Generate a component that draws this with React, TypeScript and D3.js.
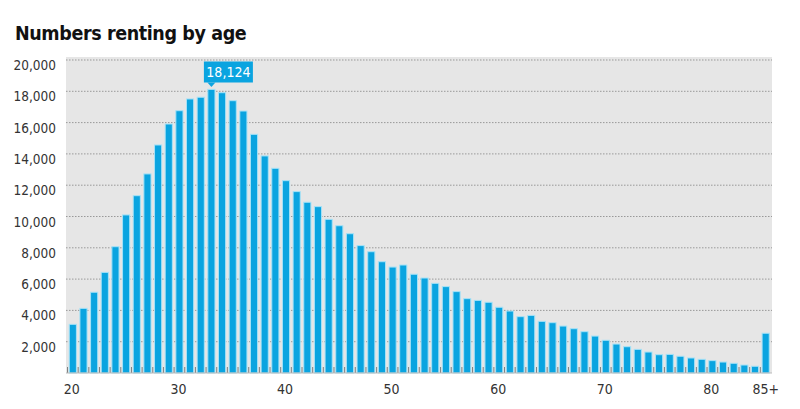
import React from 'react';
import * as d3 from 'd3';

const ageLabels = [
  '20','21','22','23','24','25','26','27','28','29',
  '30','31','32','33','34','35','36','37','38','39',
  '40','41','42','43','44','45','46','47','48','49',
  '50','51','52','53','54','55','56','57','58','59',
  '60','61','62','63','64','65','66','67','68','69',
  '70','71','72','73','74','75','76','77','78','79',
  '80','81','82','83','84','85+'
];
const renters = [
  3110, 4130, 5160, 6430, 8070, 10100, 11330, 12720, 14570, 15910,
  16760, 17510, 17620, 18124, 17910, 17400, 16740, 15250, 13870, 13080,
  12290, 11590, 10910, 10630, 9820, 9410, 8900, 8140, 7750, 7110,
  6770, 6900, 6310, 6070, 5730, 5520, 5200, 4750, 4640, 4520,
  4200, 3960, 3600, 3680, 3300, 3215, 3000, 2830, 2640, 2360,
  2090, 1850, 1680, 1510, 1340, 1170, 1190, 1070, 960, 875,
  790, 700, 620, 510, 430, 2540
];
const yTicks = [2000, 4000, 6000, 8000, 10000, 12000, 14000, 16000, 18000, 20000];
const xLabelAges = ['20', '30', '40', '50', '60', '70', '80', '85+'];
const peakLabel = '18,124';
const peakAge = '33';
const title = 'Numbers renting by age';

const FONT = "'DejaVu Sans Condensed', 'DejaVu Sans', sans-serif";

export default function App() {
  const W = 800, H = 409;
  const left = 66, right = 772, top = 57, bottom = 373;
  const x = d3.scaleBand<string>().domain(ageLabels).range([67.5, 771]).paddingInner(0.33).paddingOuter(0.165);
  const y = d3.scaleLinear().domain([0, 20000]).range([bottom, 60]);
  const fmt = d3.format(',');
  const step = x.step();
  const peakX = (x(peakAge) as number) + x.bandwidth() / 2;

  return (
    <svg width={W} height={H} style={{ position: 'absolute', left: 0, top: 0, display: 'block', background: '#fff' }}>
      <text x={15} y={40} fontFamily={FONT} fontWeight="bold" fontSize={19.5} letterSpacing={-0.4} fill="#111">{title}</text>
      <rect x={left} y={top} width={right - left} height={bottom - top} fill="#e6e6e6" />
      {yTicks.map(t => (
        <g key={t}>
          <line x1={left} x2={right} y1={y(t)} y2={y(t)} stroke="#999" strokeWidth={1} strokeDasharray="1.5,1.5" />
          <text x={56} y={y(t) + 10} textAnchor="end" fontFamily={FONT} fontSize={13.5} fill="#333">{fmt(t)}</text>
        </g>
      ))}
      {ageLabels.map((a, i) => (
        <rect key={a} x={x(a)} y={y(renters[i])} width={x.bandwidth()} height={bottom - y(renters[i])}
          fill="#0aa4e0" stroke="#a6e2f7" strokeWidth={1} />
      ))}
      {ageLabels.map((a) => (
        <line key={'t' + a} x1={(x(a) as number) - (step - x.bandwidth()) / 2} x2={(x(a) as number) - (step - x.bandwidth()) / 2}
          y1={bottom - 6} y2={bottom} stroke="#666" strokeWidth={0.8} />
      ))}
      <line x1={left} x2={right} y1={bottom} y2={bottom} stroke="#bbb" strokeWidth={1} />
      {xLabelAges.map(a => (
        <text key={'l' + a} x={(x(a) as number) + x.bandwidth() / 2 - (a === '85+' ? 0 : 1)} y={394} textAnchor="middle"
          fontFamily={FONT} fontSize={14} fill="#333">{a}</text>
      ))}
      <g>
        <rect x={peakX - 7.5} y={61.5} width={49} height={21} fill="#0aa4e0" />
        <path d={`M${peakX - 4},${82.5} L${peakX},${87} L${peakX + 4},${82.5} Z`} fill="#0aa4e0" />
        <text x={peakX + 17} y={77} textAnchor="middle" fontFamily={FONT} fontSize={14} fill="#fff">{peakLabel}</text>
      </g>
    </svg>
  );
}
